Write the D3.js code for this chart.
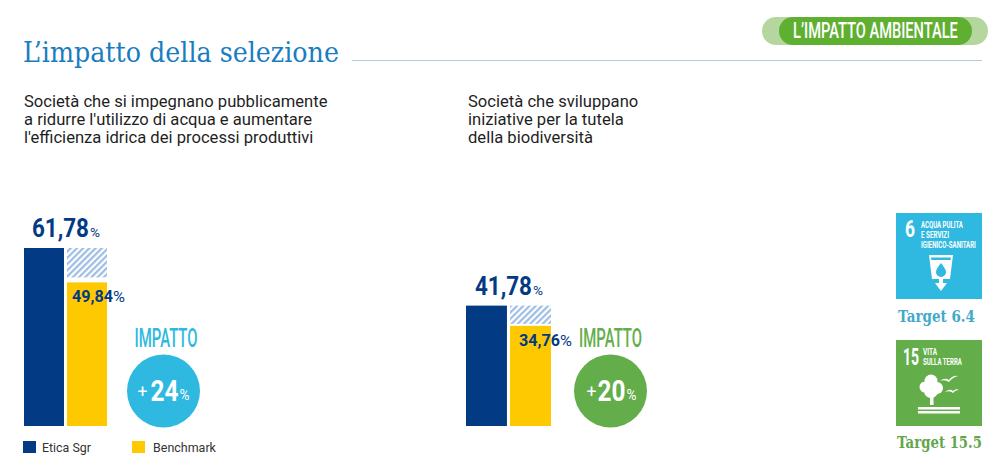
<!DOCTYPE html>
<html>
<head>
<meta charset="utf-8">
<script src="https://cdn.jsdelivr.net/npm/d3@7"></script>
<style>
  html, body { margin: 0; padding: 0; background: #fff; }
  svg { display: block; }
  text { font-family: Roboto, sans-serif; }
</style>
</head>
<body>
<div id="chart"></div>
<script>
// data
var categories = ["Etica Sgr", "Benchmark"];
var leftValues = [61.78, 49.84];
var rightValues = [41.78, 34.76];
var leftImpact = "24";
var rightImpact = "20";
var leftTitle = ["Società che si impegnano pubblicamente", "a ridurre l'utilizzo di acqua e aumentare", "l'efficienza idrica dei processi produttivi"];
var rightTitle = ["Società che sviluppano", "iniziative per la tutela", "della biodiversità"];

var navy = "#023a84", yellow = "#fec900", blue = "#2fb9e0", green = "#63ae4a";
var serif = "'DejaVu Serif', serif";

var svg = d3.select("#chart").append("svg").attr("width", 1000).attr("height", 466);

var defs = svg.append("defs");
var hatch = defs.append("pattern").attr("id", "hatch").attr("patternUnits", "userSpaceOnUse")
  .attr("width", 4.4).attr("height", 4.4).attr("patternTransform", "rotate(45)");
hatch.append("rect").attr("width", 4.4).attr("height", 4.4).attr("fill", "#fff");
hatch.append("rect").attr("width", 2.2).attr("height", 4.4).attr("fill", "#9dbde4");

// squeezes a text to the width it has in the picture (the original font is condensed)
function label(g, x, y, str, size, weight, fill, width, anchor, family) {
  var t = g.append("text").text(str)
    .attr("font-size", size).attr("font-weight", weight).attr("fill", fill)
    .attr("text-anchor", anchor || "start");
  if (family) t.style("font-family", family);
  var natural = t.node().getComputedTextLength();
  t.attr("transform", "translate(" + x + "," + y + ") scale(" + (width / natural) + ",1)");
  return t;
}

// header
label(svg, 23, 62, "L’impatto della selezione", 27, 400, "#1a7dbf", 316, "start", serif);
svg.append("line").attr("x1", 352).attr("x2", 982).attr("y1", 60.5).attr("y2", 60.5)
  .attr("stroke", "#b4c9e2").attr("stroke-width", 1);
svg.append("rect").attr("x", 762).attr("y", 17).attr("width", 226).attr("height", 28).attr("rx", 14).attr("fill", "#b5d69f");
svg.append("rect").attr("x", 779).attr("y", 17).attr("width", 193).attr("height", 28).attr("rx", 14).attr("fill", "#5fb031");
label(svg, 793, 38, "L’IMPATTO AMBIENTALE", 22, 500, "#fff", 165);

// same value scale for both panels
var y = d3.scaleLinear().domain([0, 61.78]).range([426, 248]);

function panel(o) {
  var g = svg.append("g");

  g.selectAll("text.sub").data(o.title).enter().append("text").attr("class", "sub")
    .attr("x", o.titleX).attr("y", function(d, i) { return 107 + i * 17.8; })
    .attr("font-size", 16.6).attr("fill", "#1f1f1f").text(function(d) { return d; });

  var x = d3.scaleBand().domain(categories).range([o.x0, o.x0 + o.w]).paddingInner(0.07);
  var top = y(o.values[0]);

  // hatched gap between benchmark and etica
  g.append("rect").attr("x", x(categories[1])).attr("width", x.bandwidth())
    .attr("y", top).attr("height", y(o.values[1]) - top - o.gap).attr("fill", "url(#hatch)");

  g.selectAll("rect.bar").data(o.values).enter().append("rect").attr("class", "bar")
    .attr("x", function(d, i) { return x(categories[i]); })
    .attr("width", x.bandwidth())
    .attr("y", function(d) { return y(d); })
    .attr("height", function(d) { return y(0) - y(d); })
    .attr("fill", function(d, i) { return i == 0 ? navy : yellow; });

  function fmt(v) { return v.toFixed(2).replace(".", ","); }

  // value labels
  label(g, o.valX, top - 11, fmt(o.values[0]), 25, 700, navy, 57);
  label(g, o.valX + 58, top - 11, "%", 13, 400, navy, 10);
  var by = y(o.values[1]) + 20;
  label(g, o.labelX, by, fmt(o.values[1]), 16.5, 700, navy, 41);
  label(g, o.labelX + 41, by, "%", 15, 400, navy, 12);

  // impact bubble
  var cx = o.cx;
  label(g, o.impCx, 347, "IMPATTO", 26, 500, o.color, 63, "middle");
  g.append("circle").attr("cx", cx).attr("cy", o.cy).attr("r", 36.5).attr("fill", o.color);
  label(g, cx - o.plus, o.cy + 7, "+", 18, 400, "#fff", 10);
  label(g, cx - 13, o.cy + 10, o.impact, 30, 700, "#fff", 28);
  label(g, cx + 16, o.cy + 9, "%", 14, 400, "#fff", 10);
}

panel({ x0: 24, w: 83, titleX: 24, title: leftTitle, values: leftValues, impact: leftImpact, color: blue,
        cx: 163.5, impCx: 166, cy: 391, labelX: 72, valX: 32, gap: 5, plus: 26 });
panel({ x0: 466, w: 85, titleX: 468, title: rightTitle, values: rightValues, impact: rightImpact, color: green,
        cx: 610.5, impCx: 610.5, cy: 391, labelX: 519, valX: 475, gap: 2, plus: 24 });

// legend
var legendX = [23, 132], legendTextX = [42, 153], legendW = [49, 63];
var legend = svg.selectAll("g.leg").data(categories).enter().append("g").attr("class", "leg");
legend.append("rect").attr("x", function(d, i) { return legendX[i]; }).attr("y", 441)
  .attr("width", 13).attr("height", 12).attr("fill", function(d, i) { return i == 0 ? navy : yellow; });
categories.forEach(function(d, i) { label(svg, legendTextX[i], 452, d, 12, 400, "#333", legendW[i]); });

// SDG tiles
var tile1 = svg.append("g");
tile1.append("rect").attr("x", 896).attr("y", 213).attr("width", 86).attr("height", 86).attr("fill", blue);
label(tile1, 905, 237, "6", 24, 700, "#fff", 10);
label(tile1, 921, 228, "ACQUA PULITA", 9, 700, "#fff", 42);
label(tile1, 921, 238, "E SERVIZI", 9, 700, "#fff", 28);
label(tile1, 921, 248, "IGIENICO-SANITARI", 9, 700, "#fff", 55);
tile1.append("path").attr("fill", "#fff")
  .attr("d", "M929 255H953L950 279H943V283H947L941 291L935 283H939V279H932Z");
tile1.append("path").attr("fill", blue)
  .attr("d", "M931 257.5H951L950.6 260H931.4Z M941 263C941 263 936 269 936 272A5 5 0 0 0 946 272C946 269 941 263 941 263Z");
label(svg, 898, 322, "Target 6.4", 16, 700, "#42a9c9", 77, "start", serif);

var tile2 = svg.append("g");
tile2.append("rect").attr("x", 896).attr("y", 340).attr("width", 86).attr("height", 86).attr("fill", green);
label(tile2, 903, 365, "15", 24, 700, "#fff", 16);
label(tile2, 923, 355, "VITA", 9, 700, "#fff", 14);
label(tile2, 923, 365, "SULLA TERRA", 9, 700, "#fff", 39);
tile2.selectAll("circle").data([[931, 381, 6.5], [925, 387, 5.5], [937, 388, 6], [931, 391, 7]]).enter().append("circle")
  .attr("cx", function(d) { return d[0]; }).attr("cy", function(d) { return d[1]; }).attr("r", function(d) { return d[2]; })
  .attr("fill", "#fff");
tile2.append("rect").attr("x", 930).attr("y", 396).attr("width", 3.5).attr("height", 9).attr("fill", "#fff");
tile2.append("rect").attr("x", 918).attr("y", 407).attr("width", 42).attr("height", 2.5).attr("fill", "#fff");
tile2.append("rect").attr("x", 918).attr("y", 411).attr("width", 42).attr("height", 2.5).attr("fill", "#fff");
tile2.selectAll("path").data(["M940 381Q945 377 949 380Q953 375 958 376Q953 377 949 382Q945 379 940 381Z",
  "M945 392Q950 388 953 391Q956 388 959 390Q955 390 953 393Q950 390 945 392Z"]).enter().append("path")
  .attr("d", function(d) { return d; }).attr("fill", "#fff");
label(svg, 897, 448, "Target 15.5", 16, 700, "#63a54b", 85, "start", serif);
</script>
</body>
</html>
